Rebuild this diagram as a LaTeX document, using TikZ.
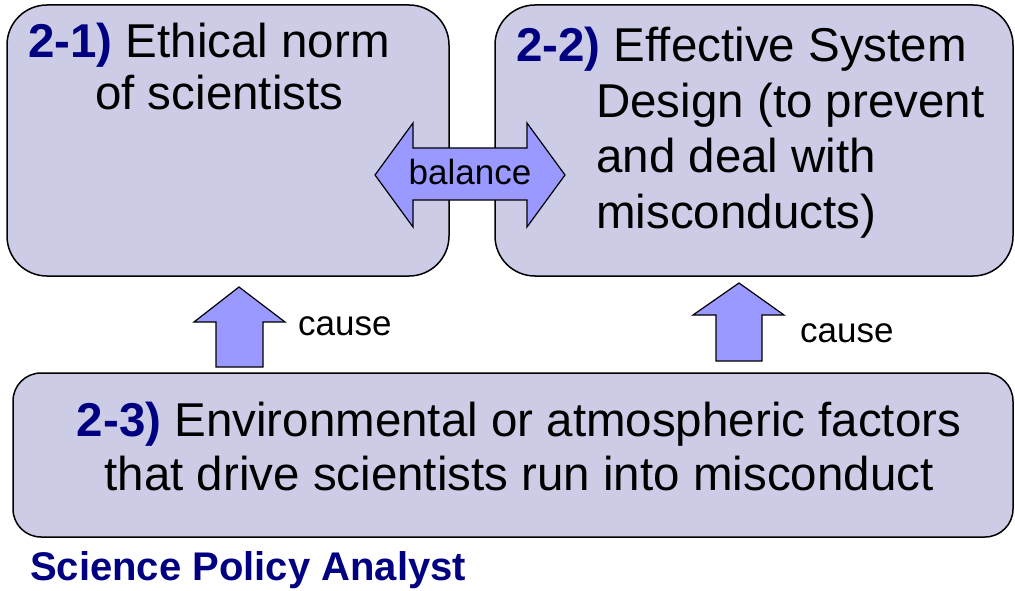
\documentclass[tikz,border=0pt]{standalone}
\usepackage{fontspec}
\setmainfont{Liberation Sans}
\definecolor{boxfill}{HTML}{CCCCE6}
\definecolor{arrowfill}{HTML}{9999FF}
\definecolor{navy}{HTML}{000080}
\begin{document}
\begin{tikzpicture}[x=1pt,y=-1pt,
  panel/.style={draw=black, line width=1.5pt, fill=boxfill, inner sep=0pt, outer sep=0pt},
  blockarrow/.style={draw=black, line width=1.2pt, fill=arrowfill, line join=miter},
  big/.style={font=\fontsize{47.5}{54}\selectfont, inner sep=0pt},
  lbl/.style={font=\fontsize{35}{40}\selectfont, inner sep=0pt},
  num/.style={text=navy, font=\bfseries}]
\useasboundingbox (0,0) rectangle (1015,591);
% panels
\node[panel, rounded corners=40pt, minimum width=442pt, minimum height=271pt, anchor=north west] (b1) at (7,5) {};
\node[panel, rounded corners=40pt, minimum width=518pt, minimum height=271pt, anchor=north west] (b2) at (495,5) {};
\node[panel, rounded corners=28pt, minimum width=1000pt, minimum height=164pt, anchor=north west] (b3) at (13,373) {};
% texts in panels
\node[big, anchor=base west] (t1a) at (28,58) {\textcolor{navy}{\bfseries 2-1)} Ethical norm};
\node[big, anchor=base west] (t1b) at (95,110) {of scientists};
\node[big, anchor=base west] (t2a) at (516,62) {\textcolor{navy}{\bfseries 2-2)} Effective System};
\node[big, anchor=base west] (t2b) at (596,118) {Design (to prevent};
\node[big, anchor=base west] (t2c) at (596,172) {and deal with};
\node[big, anchor=base west] (t2d) at (596,228) {misconducts)};
\node[big, anchor=base] (t3a) at (519,436) {\textcolor{navy}{\bfseries 2-3)} Environmental or atmospheric factors};
\node[big, anchor=base] (t3b) at (519,490) {that drive scientists run into misconduct};
% balance double arrow
\draw[blockarrow] (375,175) -- (413,123) -- (413,148) -- (527,148) -- (527,123) -- (565,175)
  -- (527,227) -- (527,200) -- (413,200) -- (413,227) -- cycle;
\node[lbl, anchor=base] (bal) at (470,185) {balance};
% cause arrows
\draw[blockarrow] (239,287) -- (285,322) -- (263,322) -- (263,367) -- (216,367) -- (216,322) -- (194,322) -- cycle;
\node[lbl, anchor=base west] (c1) at (298,335) {cause};
\draw[blockarrow] (739,283) -- (784,315) -- (762,315) -- (762,361) -- (716,361) -- (716,315) -- (693,315) -- cycle;
\node[lbl, anchor=base west] (c2) at (800,342) {cause};
% footer
\node[anchor=base west, inner sep=0pt, text=navy, font=\fontsize{40}{46}\selectfont\bfseries] (foot) at (30,580) {Science Policy Analyst};
\end{tikzpicture}
\end{document}
